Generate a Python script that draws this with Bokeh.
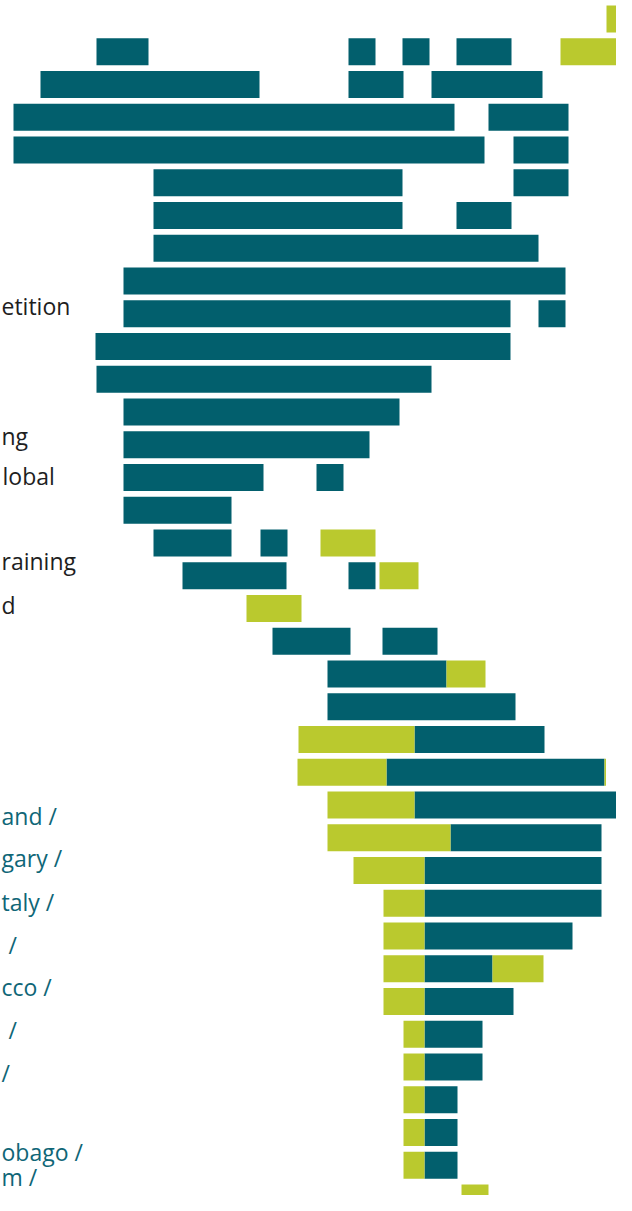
from bokeh.plotting import figure
from bokeh.models import Range1d, ColumnDataSource
from bokeh.core.properties import value
from bokeh.embed import file_html
from bokeh.resources import INLINE

# Teal segments: row index, start, end (horizontal timeline units)
teal_row = [1, 1, 1, 1, 2, 2, 2, 3, 3, 4, 4, 5, 5, 6, 6, 7, 8, 9, 9, 10, 11, 12, 13,
            14, 14, 15, 16, 16, 17, 17, 19, 19, 20, 21, 22, 23, 24, 25, 26, 27, 28,
            29, 30, 31, 32, 33, 34, 35]
teal_start = [96, 348, 402, 456, 40, 348, 431, 13, 488, 13, 513, 153, 513, 153, 456,
              153, 123, 123, 538, 95, 96, 123, 123, 123, 316, 123, 153, 260, 182, 348,
              272, 382, 327, 327, 414, 386, 414, 450, 424, 424, 424, 424, 424, 424,
              424, 424, 424, 424]
teal_end = [148, 375, 429, 511, 259, 403, 542, 454, 568, 484, 568, 402, 568, 402, 511,
            538, 565, 510, 565, 510, 431, 399, 369, 263, 343, 231, 231, 287, 286, 375,
            350, 437, 446, 515, 544, 604, 640, 601, 601, 601, 572, 492, 513, 482,
            482, 457, 457, 457]

# Green segments
green_row = [0, 1, 16, 17, 18, 20, 22, 23, 23, 24, 25, 26, 27, 28, 29, 29, 30, 31, 32,
             33, 34, 35, 36]
green_start = [606, 560, 320, 379, 246, 446, 298, 297, 604, 327, 327, 353, 383, 383,
               383, 492, 383, 403, 403, 403, 403, 403, 461]
green_end = [640, 624, 375, 418, 301, 485, 414, 386, 605.5, 414, 450, 424, 424, 424,
             424, 543, 424, 424, 424, 424, 424, 424, 488]

# Label fragments (left column)
dark_labels = ["etition", "ng", "lobal", "raining", "d"]
dark_label_x = [1, 1, 2, 1, 1]
dark_label_row = [8.75, 12.72, 13.94, 16.54, 17.88]

teal_labels = ["and /", "gary /", "taly /", "/", "cco /", "/", "/", "obago /"]
teal_label_x = [1, 1, 1, 8, 1, 8, 1, 1]
teal_label_row = [24.35, 25.63, 26.95, 28.26, 29.57, 30.88, 32.17, 34.6]

last_label = ["m /"]
last_label_x = [1]
last_label_row = [35.86]

TEAL = "#025f6d"
GREEN = "#bac92e"
PITCH = 32.75
BAR_H = 27 / PITCH
TOP = -18.5 / PITCH
BOTTOM = TOP + 1195 / PITCH

p = figure(width=616, height=1195, output_backend="svg", toolbar_location=None,
           x_range=Range1d(0, 616), y_range=Range1d(BOTTOM, TOP),
           min_border=0, outline_line_color=None)
p.axis.visible = False
p.grid.visible = False
p.background_fill_color = "white"
p.border_fill_color = "white"

p.hbar(y="y", left="l", right="r", height=BAR_H, fill_color=TEAL, line_color=None,
       source=ColumnDataSource(dict(y=teal_row, l=teal_start, r=teal_end)))
p.hbar(y="y", left="l", right="r", height=BAR_H, fill_color=GREEN, line_color=None,
       source=ColumnDataSource(dict(y=green_row, l=green_start, r=green_end)))

p.text(x="x", y="y", text="t", text_align="left", text_baseline="middle",
       text_font=value("Open Sans"), text_font_size="23px", text_color="#1e1e1e",
       source=ColumnDataSource(dict(x=dark_label_x, y=dark_label_row, t=dark_labels)))
p.text(x="x", y="y", text="t", text_align="left", text_baseline="middle",
       text_font=value("Open Sans"), text_font_size="23px", text_color="#0f6677",
       source=ColumnDataSource(dict(x=teal_label_x, y=teal_label_row, t=teal_labels)))
p.text(x="x", y="y", text="t", text_align="left", text_baseline="bottom",
       text_font=value("Open Sans"), text_font_size="23px", text_color="#0f6677",
       source=ColumnDataSource(dict(x=last_label_x, y=last_label_row, t=last_label)))

open("out.html", "w").write(file_html(p, INLINE))
